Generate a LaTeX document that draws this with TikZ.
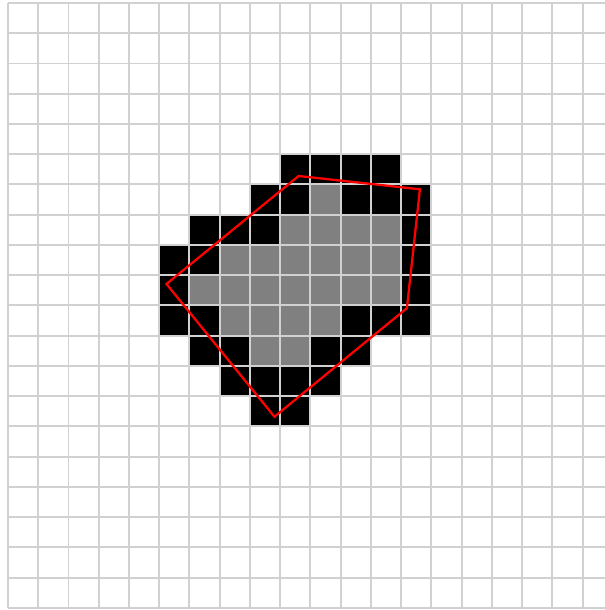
\documentclass[tikz,border=0pt]{standalone}
\usepackage{tikz}

\begin{document}
\begin{tikzpicture}[
    x=1.212cm, y=-1.212cm,
    blackpx/.style={fill=black},
    graypx/.style={fill=black!50},
    gridline/.style={draw=black!18, line width=2.2pt},
    hull/.style={draw=red, line width=2.6pt, line join=miter},
]
\useasboundingbox (-0.264,-0.099) rectangle (19.736,20.07);

% black pixels (column/row)
\foreach \c/\r in {9/5,10/5,11/5,12/5, 8/6,9/6,11/6,12/6,13/6, 6/7,7/7,8/7,13/7,
    5/8,6/8,13/8, 5/9,13/9, 5/10,6/10,11/10,12/10,13/10, 6/11,7/11,10/11,11/11,
    7/12,8/12,9/12,10/12, 8/13,9/13}
    \fill[blackpx] (\c,\r) rectangle ++(1,1);

% gray pixels
\foreach \c/\r in {10/6, 9/7,10/7,11/7,12/7, 7/8,8/8,9/8,10/8,11/8,12/8,
    6/9,7/9,8/9,9/9,10/9,11/9,12/9, 7/10,8/10,9/10,10/10, 8/11,9/11}
    \fill[graypx] (\c,\r) rectangle ++(1,1);

% grid
\foreach \i in {0,...,19}
    \draw[gridline] (\i,0) -- (\i,20);
\foreach \j in {0,...,20}
    \draw[gridline] (0,\j) -- (19.736,\j);

% hull
\coordinate (top) at (9.61,5.72);
\coordinate (topright) at (13.62,6.16);
\coordinate (lowright) at (13.19,10.09);
\coordinate (bottom) at (8.81,13.68);
\coordinate (left) at (5.24,9.29);
\draw[hull] (top) -- (topright) -- (lowright) -- (bottom) -- (left) -- cycle;

\end{tikzpicture}
\end{document}
